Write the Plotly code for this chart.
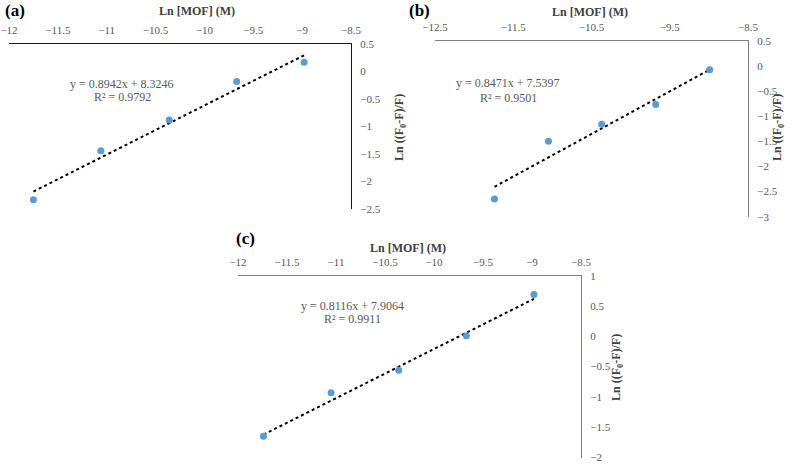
import plotly.graph_objects as go

# ---- data ----
x_a = [-11.75, -11.06, -10.36, -9.67, -8.98]
y_a = [-2.33, -1.44, -0.88, -0.18, 0.17]
fit_a = (0.8942, 8.3246)
eq_a = ["y = 0.8942x + 8.3246", "R² = 0.9792"]

x_b = [-11.74, -11.05, -10.37, -9.68, -8.99]
y_b = [-2.65, -1.50, -1.16, -0.77, -0.08]
fit_b = (0.8471, 7.5397)
eq_b = ["y = 0.8471x + 7.5397", "R² = 0.9501"]

x_c = [-11.74, -11.05, -10.36, -9.67, -8.98]
y_c = [-1.65, -0.93, -0.56, 0.01, 0.69]
fit_c = (0.8116, 7.9064)
eq_c = ["y = 0.8116x + 7.9064", "R² = 0.9911"]

panel_labels = ["(a)", "(b)", "(c)"]
x_title = "Ln [MOF] (M)"
y_title = "Ln ((F<sub>0</sub>-F)/F)"

W, H = 793, 465
ML, MR, MT, MB = 4, 4, 4, 4
PW, PH = W - ML - MR, H - MT - MB
FONT = "Liberation Serif"
GRAY = "#595959"
BLUE = "#5B9BD5"

def fx(px):
    return (px - ML) / PW

def fy(py):
    return 1 - (py - MT) / PH

panels = [
    dict(x=x_a, y=y_a, fit=fit_a, eq=eq_a, xr=[-12, -8.5], dx=0.5, yr=[-2.5, 0.5], dy=0.5,
         xd=(9, 351), yd=(44, 209), line="#1a1a1a",
         lab=(15, 11), tit=(197, 11), ytit=(400, 128), eqp=(122, 84, 97)),
    dict(x=x_b, y=y_b, fit=fit_b, eq=eq_b, xr=[-12.5, -8.5], dx=1, yr=[-3, 0.5], dy=0.5,
         xd=(435, 748), yd=(40.7, 216.7), line="#7f7f7f",
         lab=(419, 10), tit=(590, 12), ytit=(778, 128), eqp=(508, 83, 97.5)),
    dict(x=x_c, y=y_c, fit=fit_c, eq=eq_c, xr=[-12, -8.5], dx=0.5, yr=[-2, 1], dy=0.5,
         xd=(238, 581), yd=(275.7, 457.5), line="#7f7f7f",
         lab=(245, 238), tit=(408, 248), ytit=(617, 368), eqp=(352, 306, 319)),
]

def ann(x, y, text, size, color, angle=0):
    return dict(x=fx(x), y=fy(y), xref="paper", yref="paper", text=text,
                showarrow=False, xanchor="center", yanchor="middle", textangle=angle,
                font=dict(family=FONT, size=size, color=color))

fig = go.Figure()
annotations = []
shapes = []
for i, p in enumerate(panels, start=1):
    xa = "x" if i == 1 else f"x{i}"
    ya = "y" if i == 1 else f"y{i}"
    xs = [min(p["x"]), max(p["x"])]
    ys = [p["fit"][0] * v + p["fit"][1] for v in xs]
    fig.add_trace(go.Scatter(x=xs, y=ys, mode="lines", xaxis=xa, yaxis=ya,
                             line=dict(color="black", width=2, dash="dot"),
                             showlegend=False, hoverinfo="skip", cliponaxis=False))
    fig.add_trace(go.Scatter(x=p["x"], y=p["y"], mode="markers", xaxis=xa, yaxis=ya,
                             marker=dict(color=BLUE, size=7), showlegend=False,
                             cliponaxis=False))
    xkey = "xaxis" if i == 1 else f"xaxis{i}"
    ykey = "yaxis" if i == 1 else f"yaxis{i}"
    fig.update_layout(**{
        xkey: dict(domain=[fx(p["xd"][0]), fx(p["xd"][1])], range=p["xr"], automargin=False,
                   anchor=ya, side="top", showline=True, linecolor=p["line"], linewidth=1.3,
                   showgrid=False, zeroline=False, ticks="", dtick=p["dx"], tick0=-12.5,
                   tickfont=dict(family=FONT, size=11, color=GRAY), ticklabelstandoff=4,
                   fixedrange=True),
        ykey: dict(domain=[fy(p["yd"][1]), fy(p["yd"][0])], range=p["yr"], automargin=False,
                   anchor=xa, side="right", showline=True, linecolor=p["line"], linewidth=1.3,
                   showgrid=False, zeroline=False, ticks="", dtick=p["dy"],
                   tickfont=dict(family=FONT, size=11, color=GRAY), ticklabelstandoff=6,
                   fixedrange=True),
    })
    annotations.append(ann(p["lab"][0], p["lab"][1], f"<b>{panel_labels[i-1]}</b>", 17, "black"))
    annotations.append(ann(p["tit"][0], p["tit"][1], f"<b>{x_title}</b>", 12, "#404040"))
    annotations.append(ann(p["ytit"][0], p["ytit"][1], f"<b>{y_title}</b>", 12, "#404040", -90))
    annotations.append(ann(p["eqp"][0], p["eqp"][1], p["eq"][0], 12, GRAY))
    annotations.append(ann(p["eqp"][0], p["eqp"][2], p["eq"][1], 12, GRAY))

fig.update_layout(width=W, height=H, margin=dict(l=ML, r=MR, t=MT, b=MB, autoexpand=False),
                  paper_bgcolor="white", plot_bgcolor="white",
                  font=dict(family=FONT),
                  annotations=annotations)
fig.write_html("out.html", config={"displayModeBar": False},
               post_script="document.body.style.margin='0';")
